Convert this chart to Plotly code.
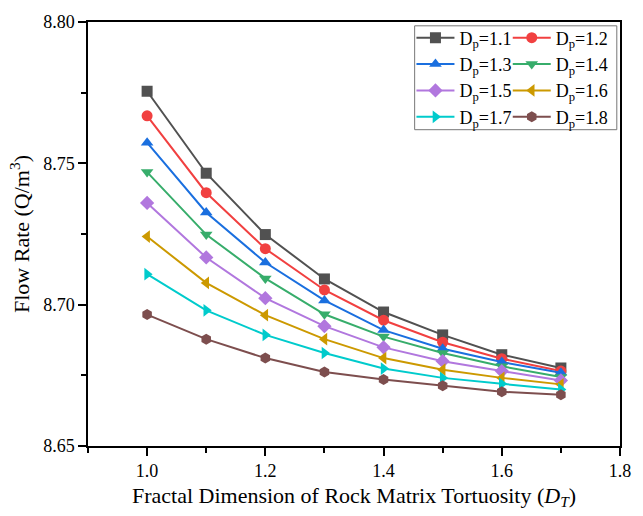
import plotly.graph_objects as go

dt = [1.0, 1.1, 1.2, 1.3, 1.4, 1.5, 1.6, 1.7]
labels = ["1.1", "1.2", "1.3", "1.4", "1.5", "1.6", "1.7", "1.8"]
q_11 = [8.7755, 8.7465, 8.7248, 8.7091, 8.6974, 8.6893, 8.6823, 8.6776]
q_12 = [8.7668, 8.7396, 8.7198, 8.7052, 8.6945, 8.6867, 8.6809, 8.6765]
q_13 = [8.7573, 8.7326, 8.7149, 8.7015, 8.6910, 8.6844, 8.6797, 8.6759]
q_14 = [8.7469, 8.7248, 8.7093, 8.6966, 8.6887, 8.6829, 8.6782, 8.6744]
q_15 = [8.7360, 8.7167, 8.7023, 8.6924, 8.6849, 8.6800, 8.6765, 8.6732]
q_16 = [8.7241, 8.7077, 8.6963, 8.6878, 8.6811, 8.6770, 8.6741, 8.6718]
q_17 = [8.7108, 8.6980, 8.6893, 8.6829, 8.6774, 8.6741, 8.6720, 8.6700]
q_18 = [8.6965, 8.6878, 8.6811, 8.6762, 8.6735, 8.6713, 8.6692, 8.6681]
series = [q_11, q_12, q_13, q_14, q_15, q_16, q_17, q_18]

colors = ["#515151", "#F14040", "#1A6FDF", "#37AD6B", "#B177DE", "#CC9900", "#00CBCC", "#7D4E4E"]
symbols = ["square", "circle", "triangle-up", "triangle-down", "diamond",
           "triangle-left", "triangle-right", "hexagon"]

fig = go.Figure()
for i, (lab, ys, c, s) in enumerate(zip(labels, series, colors, symbols)):
    fig.add_trace(go.Scatter(
        x=dt, y=ys, mode="lines+markers", name=f"D<sub>p</sub>={lab}",
        line=dict(color=c, width=2),
        marker=dict(symbol=s, size=11, color=c),
        legend="legend" if i % 2 == 0 else "legend2",
    ))

font = "Liberation Serif, Times New Roman, serif"
leg_common = dict(
    orientation="v", y=1.006, yanchor="top", xanchor="left",
    bgcolor="rgba(0,0,0,0)", borderwidth=0,
    font=dict(family=font, size=18), tracegroupgap=0, itemwidth=38,
)
fig.update_layout(
    width=643, height=516,
    margin=dict(l=88, r=23, t=20, b=67),
    paper_bgcolor="white", plot_bgcolor="white",
    font=dict(family=font, size=18, color="black"),
    legend=dict(x=0.608, **leg_common),
    legend2=dict(x=0.789, **leg_common),
    showlegend=True,
    shapes=[dict(type="rect", xref="paper", yref="paper",
                 x0=0.614, x1=0.994, y0=0.746, y1=0.991,
                 line=dict(color="#777777", width=1), fillcolor="rgba(0,0,0,0)", layer="below")],
)
fig.update_xaxes(
    range=[0.9, 1.8], tickvals=[1.0, 1.2, 1.4, 1.6, 1.8],
    ticktext=["1.0", "1.2", "1.4", "1.6", "1.8"],
    tickfont=dict(size=18),
    ticks="outside", ticklen=8, tickwidth=1.5, tickcolor="black",
    minor=dict(tickvals=[0.9, 1.1, 1.3, 1.5, 1.7], ticks="outside", ticklen=5, tickcolor="black", tickwidth=1.5),
    showline=True, linecolor="black", linewidth=1.5, mirror=True, showgrid=False, zeroline=False,
    title=dict(text="Fractal Dimension of Rock Matrix Tortuosity (<i>D<sub>T</sub></i>)", font=dict(size=22), standoff=7),
)
fig.update_yaxes(
    range=[8.65, 8.80], tickvals=[8.65, 8.70, 8.75, 8.80],
    ticktext=["8.65", "8.70", "8.75", "8.80"],
    tickfont=dict(size=18),
    ticks="outside", ticklen=8, tickwidth=1.5, tickcolor="black",
    minor=dict(tickvals=[8.675, 8.725, 8.775], ticks="outside", ticklen=5, tickcolor="black", tickwidth=1.5),
    showline=True, linecolor="black", linewidth=1.5, mirror=True, showgrid=False, zeroline=False,
    title=dict(text="Flow Rate (Q/m<sup>3</sup>)", font=dict(size=22), standoff=7),
)
fig.write_html("out.html", post_script="document.body.style.margin='0';",
               config={"displayModeBar": False})
